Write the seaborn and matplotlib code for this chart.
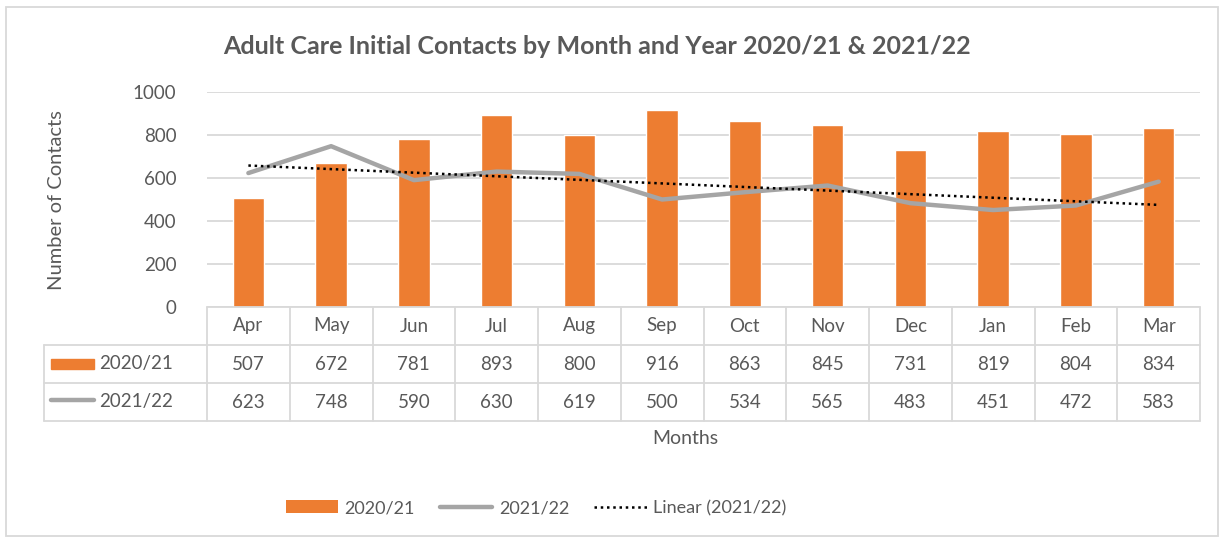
import numpy as np
import pandas as pd
import seaborn as sns
import matplotlib
matplotlib.use("Agg")
import matplotlib.pyplot as plt
from matplotlib.lines import Line2D
from matplotlib.patches import Patch, Rectangle
import matplotlib.transforms as mtransforms

months = ["Apr", "May", "Jun", "Jul", "Aug", "Sep", "Oct", "Nov", "Dec", "Jan", "Feb", "Mar"]
contacts_2020_21 = [507, 672, 781, 893, 800, 916, 863, 845, 731, 819, 804, 834]
contacts_2021_22 = [623, 748, 590, 630, 619, 500, 534, 565, 483, 451, 472, 583]
series_names = ["2020/21", "2021/22"]
y_ticks = [0, 200, 400, 600, 800, 1000]

sns.set_theme(style="white")
plt.rcParams["font.family"] = ["Lato", "DejaVu Sans"]
TXT = "#595959"
GRID = "#d9d9d9"
ORANGE = "#ED7D31"
GRAY = "#A5A5A5"

W, H = 1225, 543
fig = plt.figure(figsize=(W / 100, H / 100), dpi=100)
ax = fig.add_axes([207 / W, 1 - 307 / H, (1200 - 207) / W, (307 - 92) / H])

df = pd.DataFrame({"month": months, "v1": contacts_2020_21, "v2": contacts_2021_22})
x = np.arange(len(months))

sns.barplot(data=df, x="month", y="v1", color=ORANGE, width=0.38, saturation=1, ax=ax, zorder=2)
sns.lineplot(x=x, y=contacts_2021_22, color=GRAY, lw=3.2, ax=ax, zorder=3,
             solid_capstyle="round", solid_joinstyle="round")
coef = np.polyfit(x, contacts_2021_22, 1)
trend = np.polyval(coef, x)
ax.plot(x, trend, color="black", lw=1.8, ls=(0, (1, 1.5)), zorder=4)

ax.set_xlim(-0.5, len(months) - 0.5)
ax.set_ylim(0, 1000)
ax.set_yticks(y_ticks)
ax.set_yticklabels([str(t) for t in y_ticks], fontsize=13.5, color=TXT)
ax.tick_params(axis="y", length=0, pad=22)
ax.set_xticks([])
ax.set_xlabel("")
ax.set_ylabel("")
for s in ax.spines.values():
    s.set_visible(False)
ax.grid(axis="y", color=GRID, lw=1.3, zorder=0)
ax.set_axisbelow(True)

# Data table below axes
ax_h_px = 307 - 92
row_h = 38 / ax_h_px
trans = mtransforms.blended_transform_factory(ax.transData, ax.transAxes)
left_axes_x = (44 - 207) / (1200 - 207)  # in axes fraction
tab_kw = dict(color=GRID, lw=1.3, clip_on=False)
ax.plot([-0.5, len(months) - 0.5], [0, 0], transform=trans, **tab_kw)
for r in (1, 2, 3):
    ax.plot([left_axes_x, 1], [-r * row_h] * 2, transform=ax.transAxes, **tab_kw)
for i in range(len(months) + 1):
    ax.plot([i - 0.5, i - 0.5], [0, -3 * row_h], transform=trans, **tab_kw)
ax.plot([left_axes_x, left_axes_x], [-row_h, -3 * row_h], transform=ax.transAxes, **tab_kw)

for i, m in enumerate(months):
    ax.text(i, -0.5 * row_h, m, transform=trans, ha="center", va="center", fontsize=13.5, color=TXT)
    ax.text(i, -1.5 * row_h, str(contacts_2020_21[i]), transform=trans, ha="center", va="center",
            fontsize=13.5, color=TXT)
    ax.text(i, -2.5 * row_h, str(contacts_2021_22[i]), transform=trans, ha="center", va="center",
            fontsize=13.5, color=TXT)

# legend keys in table
fig.patches.append(Rectangle((51 / W, 1 - 369 / H), 43 / W, 10 / H, transform=fig.transFigure,
                             color=ORANGE))
fig.lines.append(Line2D([51 / W, 94 / W], [1 - 400 / H] * 2, transform=fig.transFigure,
                        color=GRAY, lw=3.2, solid_capstyle="round"))
fig.text(99 / W, 1 - 364 / H, series_names[0], ha="left", va="center", fontsize=13.5, color=TXT)
fig.text(99 / W, 1 - 401 / H, series_names[1], ha="left", va="center", fontsize=13.5, color=TXT)

# Axis titles
fig.text(685 / W, 1 - 438 / H, "Months", ha="center", va="center", fontsize=14, color=TXT)
fig.text(57 / W, 1 - 200 / H, "Number of Contacts", ha="center", va="center", rotation=90,
         fontsize=14.5, color=TXT)
fig.text(597 / W, 1 - 46 / H, "Adult Care Initial Contacts by Month and Year 2020/21 & 2021/22",
         ha="center", va="center", fontsize=18, fontweight="bold", color=TXT)

# Legend
handles = [Patch(facecolor=ORANGE, edgecolor="none"),
           Line2D([], [], color=GRAY, lw=3.2, solid_capstyle="round"),
           Line2D([], [], color="black", lw=1.8, ls=(0, (1, 1.5)))]
labels = ["2020/21", "2021/22", "Linear (2021/22)"]
fig.legend(handles, labels, loc="center", bbox_to_anchor=(536 / W, 1 - 508 / H), ncol=3,
           frameon=False, fontsize=13, labelcolor=TXT, handlelength=2.9, columnspacing=1.4,
           handletextpad=0.35)

# outer border
fig.patches.append(Rectangle((6 / W, 7 / H), (1218 - 6) / W, (536 - 7) / H, transform=fig.transFigure,
                             fill=False, edgecolor=GRID, lw=1.3))

fig.savefig("out.png", dpi=100, facecolor="white")
